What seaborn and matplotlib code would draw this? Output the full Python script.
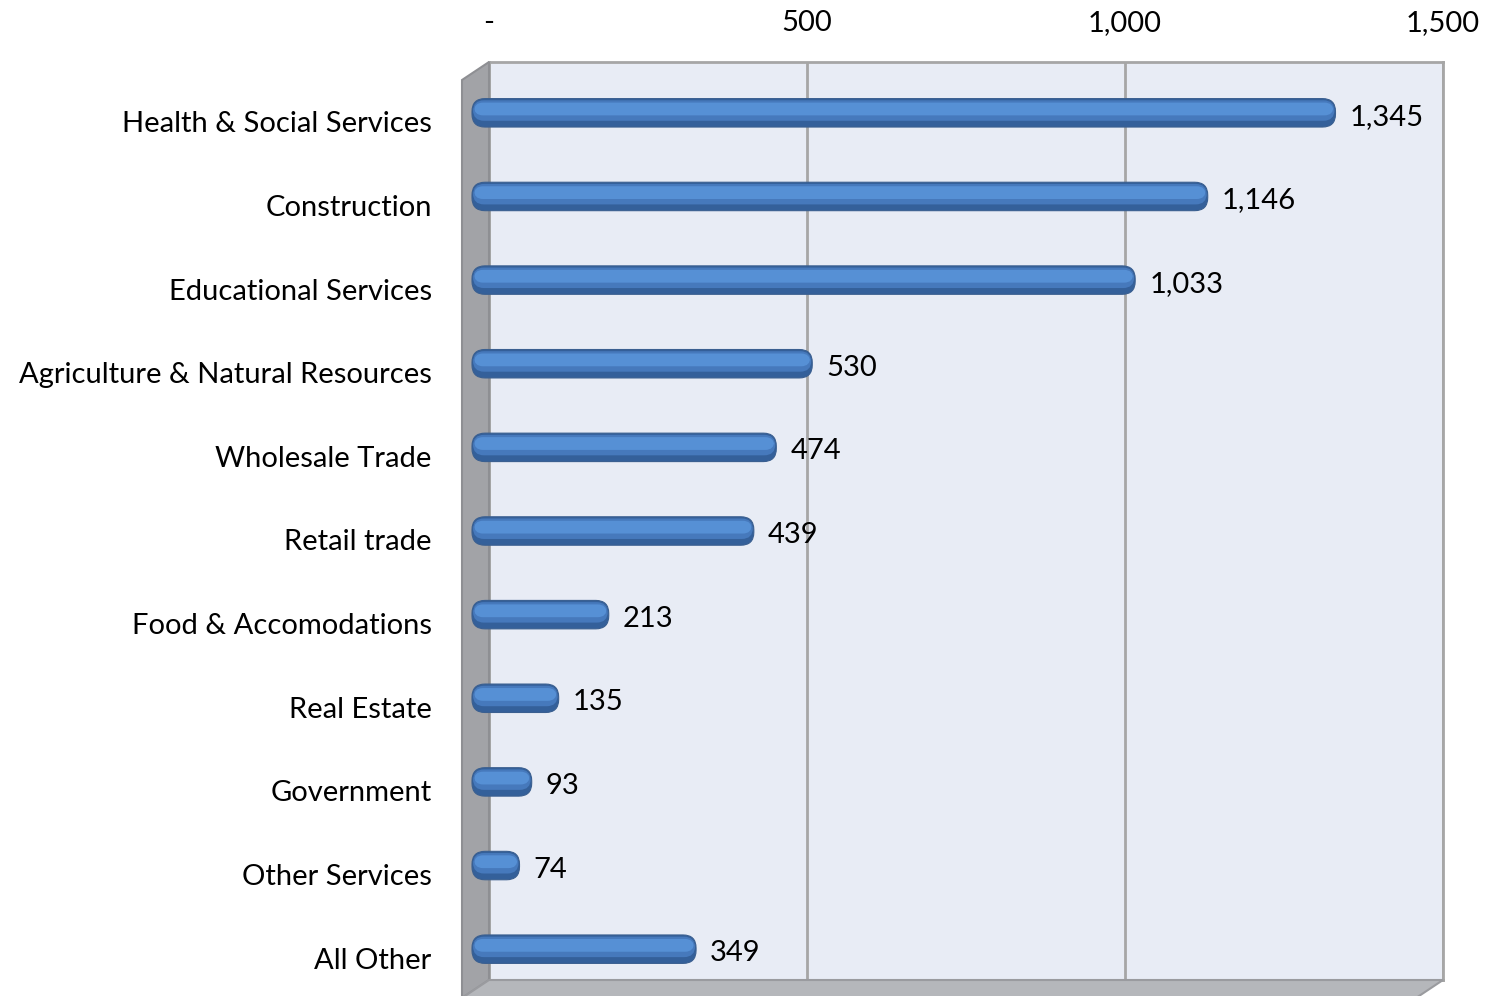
import numpy as np
import pandas as pd
import seaborn as sns
import matplotlib.pyplot as plt
from matplotlib.patches import Polygon, FancyBboxPatch
from matplotlib.transforms import ScaledTranslation

#DATA
industries = ["Health & Social Services", "Construction", "Educational Services",
              "Agriculture & Natural Resources", "Wholesale Trade", "Retail trade",
              "Food & Accomodations", "Real Estate", "Government", "Other Services",
              "All Other"]
counts = [1345, 1146, 1033, 530, 474, 439, 213, 135, 93, 74, 349]
xticks = [0, 500, 1000, 1500]
xticklabels = ["-", "500", "1,000", "1,500"]

df = pd.DataFrame({"industry": industries, "count": counts})

sns.set_theme(style="white")
plt.rcParams['font.family'] = ['Lato', 'DejaVu Sans']
FS = 21

W, H = 1488, 996
fig = plt.figure(figsize=(W / 100, H / 100), dpi=100)

def fx(px): return px / W
def fy(py): return 1 - py / H

#BACK WALL (gridlines + top tick labels)
back = fig.add_axes([fx(489), fy(980), fx(1443) - fx(489), fy(62) - fy(980)])
back.set_zorder(1)
back.set_facecolor("#E8ECF5")
back.set_xlim(0, 1500)
back.set_ylim(0, 1)
back.set_xticks(xticks)
back.set_xticklabels(xticklabels, fontsize=FS)
back.set_yticks([])
back.xaxis.tick_top()
back.tick_params(axis="x", length=0, pad=19, colors="black")
back.grid(axis="x", color="#A6A6A6", linewidth=2)
for s in back.spines.values():
    s.set_color("#A6A6A6")
    s.set_linewidth(2)

#SIDE WALL AND FLOOR
px2fig = lambda pts: [(fx(a), fy(b)) for a, b in pts]
fig.patches.append(Polygon(px2fig([(462, 80), (489, 62), (489, 980), (462, 998)]),
                           closed=True, transform=fig.transFigure,
                           facecolor="#A2A3A7", edgecolor="#8E8F93", lw=1.5, zorder=2))
fig.patches.append(Polygon(px2fig([(462, 998), (489, 980), (1443, 980), (1416, 998)]),
                           closed=True, transform=fig.transFigure,
                           facecolor="#B5B7BB", edgecolor="#9A9B9F", lw=1.5, zorder=2))
for gx in [807, 1125]:
    fig.lines.append(plt.Line2D([fx(gx), fx(gx - 27)], [fy(980), fy(998)],
                                transform=fig.transFigure, color="#9A9B9F", lw=1.5, zorder=2))

#FRONT PLANE (bars)
front = fig.add_axes([fx(472), fy(991), fx(1435) - fx(472), fy(71) - fy(991)])
front.set_zorder(3)
front.patch.set_alpha(0)
sns.barplot(data=df, x="count", y="industry", ax=front, orient="h",
            color="#4A7EBF", width=0.34, saturation=1)
front.set_xlim(0, 1500)
front.set_xlabel("")
front.set_ylabel("")
front.set_xticks([])
for s in front.spines.values():
    s.set_visible(False)
front.tick_params(axis="y", length=0, pad=29, labelsize=FS, colors="black")
for lab in front.get_yticklabels():
    lab.set_transform(lab.get_transform() + ScaledTranslation(0, -9 / 100, fig.dpi_scale_trans))

#ROUNDED, SHADED BARS (fake cylinder: dark base, mid band, light highlight)
xu = 1500 / (1435 - 472)      # data units per px in x
yu = 11 / (991 - 71)          # data units per px in y
layers = [  # (inset px, top offset frac, height frac, colour)
    (0, 0.00, 1.00, "#34609A"),
    (1, 0.06, 0.72, "#4679BC"),
    (2, 0.14, 0.45, "#5690D5"),
]
for p in list(front.patches):
    x0, y0, w, h = p.get_x(), p.get_y(), p.get_width(), p.get_height()
    p.set_visible(False)
    for k, (ins, top, frac, col) in enumerate(layers):
        front.add_patch(FancyBboxPatch((x0 + ins * xu, y0 + top * h), w - 2 * ins * xu, h * frac,
                                       boxstyle=f"round,pad=0,rounding_size={(13 - 2 * k) * xu}",
                                       mutation_aspect=yu / xu, clip_on=False,
                                       facecolor=col,
                                       edgecolor="#3A5F90" if k == 0 else "none",
                                       lw=0.8, zorder=3 + k))

#VALUE LABELS
for i, v in enumerate(counts):
    front.annotate(f"{v:,}", xy=(v, i), xytext=(14, -4), textcoords="offset pixels",
                   ha="left", va="center", fontsize=FS, color="black")

fig.savefig("out.png", dpi=100)
